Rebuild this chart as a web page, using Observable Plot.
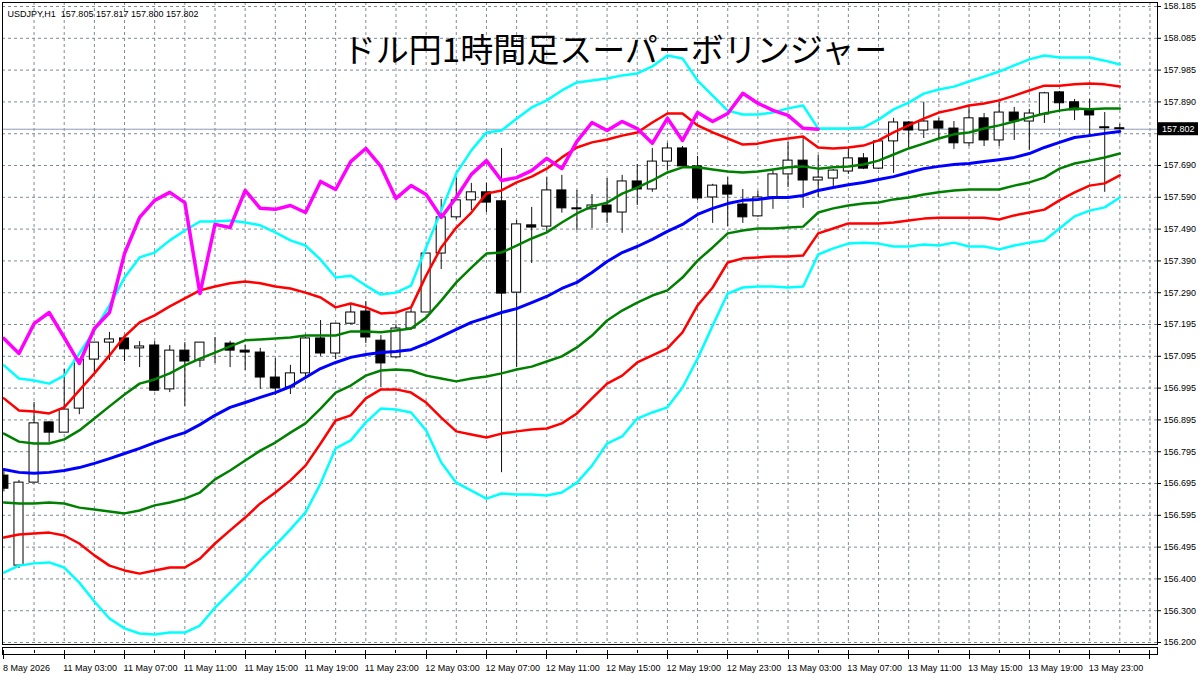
<!DOCTYPE html>
<html><head><meta charset="utf-8">
<script src="https://cdn.jsdelivr.net/npm/d3@7"></script>
<script src="https://cdn.jsdelivr.net/npm/@observablehq/plot@0.6"></script>
<style>html,body{margin:0;padding:0;background:#fff;} #chart{width:1200px;height:674px;overflow:hidden}</style>
</head><body><div id="chart"></div>
<script>
const title = "ドル円1時間足スーパーボリンジャー";
const symbolLine = "USDJPY,H1  157.805 157.817 157.800 157.802";
const lastPrice = 157.802;

const xTickIndex = [0,4,8,12,16,20,24,28,32,36,40,44,48,52,56,60,64,68,72];
const xTickLabels = ["8 May 2026","11 May 03:00","11 May 07:00","11 May 11:00","11 May 15:00","11 May 19:00","11 May 23:00","12 May 03:00","12 May 07:00","12 May 11:00","12 May 15:00","12 May 19:00","12 May 23:00","13 May 03:00","13 May 07:00","13 May 11:00","13 May 15:00","13 May 19:00","13 May 23:00"];
const yTickValues = [156.2,156.29925,156.3985,156.49775,156.597,156.69625,156.7955,156.89475,156.994,157.09325,157.1925,157.29175,157.391,157.49025,157.5895,157.68875,157.788,157.88725,157.9865,158.08575,158.185];
const yTickLabels = ["156.200","156.300","156.400","156.495","156.595","156.695","156.795","156.895","156.995","157.095","157.195","157.290","157.390","157.490","157.590","157.690","157.790","157.890","157.985","158.085","158.185"];

const openP = [156.721,156.440,156.699,156.887,156.855,156.930,157.083,157.136,157.149,157.118,
157.127,156.990,157.111,157.080,157.133,157.133,157.111,157.105,157.027,156.996,
157.040,157.149,157.102,157.195,157.233,157.142,157.090,157.180,157.230,157.414,
157.527,157.580,157.605,157.577,157.292,157.502,157.498,157.611,157.555,157.552,
157.564,157.542,157.639,157.614,157.701,157.742,157.686,157.589,157.626,157.567,
157.530,157.589,157.661,157.704,157.642,157.648,157.670,157.711,157.679,157.764,
157.823,157.798,157.826,157.804,157.758,157.836,157.767,157.854,157.826,157.848,
157.917,157.886,157.861,157.808,157.805];
const highP = [156.735,156.706,156.949,156.890,157.052,157.083,157.136,157.168,157.152,157.139,
157.139,157.127,157.136,157.136,157.152,157.140,157.127,157.118,157.086,157.065,
157.152,157.205,157.195,157.258,157.264,157.158,157.193,157.242,157.414,157.583,
157.648,157.633,157.633,157.742,157.517,157.558,157.651,157.658,157.611,157.598,
157.648,157.658,157.692,157.742,157.758,157.748,157.717,157.630,157.651,157.614,
157.608,157.673,157.761,157.773,157.720,157.676,157.745,157.726,157.767,157.836,
157.826,157.886,157.836,157.826,157.876,157.851,157.886,157.870,157.864,157.917,
157.920,157.895,157.895,157.854,157.817];
const lowP = [156.670,156.431,156.699,156.824,156.855,156.911,157.043,157.080,157.077,157.058,
156.983,156.980,156.937,157.058,157.071,157.058,157.049,156.990,156.971,156.974,
157.030,157.093,157.083,157.192,157.133,156.996,157.087,157.174,157.230,157.364,
157.520,157.548,157.542,156.730,157.058,157.383,157.483,157.540,157.486,157.492,
157.508,157.477,157.564,157.605,157.673,157.683,157.580,157.508,157.498,157.508,
157.527,157.552,157.620,157.555,157.589,157.620,157.661,157.676,157.676,157.664,
157.745,157.773,157.773,157.739,157.748,157.748,157.748,157.767,157.736,157.820,
157.854,157.829,157.782,157.605,157.800];
const closeP = [156.680,156.699,156.884,156.855,156.927,157.083,157.136,157.146,157.115,157.124,
156.986,157.111,157.077,157.136,157.133,157.111,157.105,157.027,156.993,157.040,
157.149,157.102,157.195,157.230,157.152,157.071,157.180,157.230,157.414,157.527,
157.580,157.605,157.573,157.289,157.505,157.495,157.611,157.555,157.552,157.564,
157.542,157.639,157.614,157.701,157.742,157.686,157.586,157.626,157.598,157.527,
157.589,157.661,157.704,157.642,157.651,157.673,157.711,157.679,157.764,157.823,
157.798,157.826,157.804,157.758,157.836,157.767,157.854,157.826,157.851,157.914,
157.883,157.861,157.845,157.805,157.802];

const midBand = [156.740,156.731,156.728,156.731,156.737,156.746,156.759,156.774,156.790,156.806,
156.824,156.840,156.855,156.880,156.909,156.934,156.949,156.965,156.980,156.999,
157.027,157.055,157.074,157.090,157.099,157.105,157.108,157.114,157.133,157.155,
157.177,157.199,157.214,157.230,157.242,157.261,157.280,157.305,157.324,157.355,
157.389,157.417,157.436,157.458,157.483,157.505,157.536,157.555,157.570,157.580,
157.583,157.589,157.589,157.595,157.611,157.620,157.629,157.636,157.645,157.654,
157.667,157.679,157.686,157.692,157.695,157.701,157.707,157.714,157.726,157.745,
157.761,157.776,157.782,157.789,157.795];
const upper1 = [156.852,156.827,156.821,156.821,156.834,156.862,156.899,156.937,156.974,157.008,
157.021,157.040,157.065,157.086,157.105,157.124,157.143,157.146,157.149,157.152,
157.158,157.158,157.158,157.171,157.171,157.168,157.174,157.180,157.214,157.267,
157.324,157.370,157.414,157.417,157.439,157.461,157.480,157.511,157.539,157.561,
157.573,157.601,157.620,157.642,157.667,157.683,157.683,157.676,157.670,157.667,
157.670,157.676,157.683,157.686,157.679,157.683,157.686,157.692,157.704,157.723,
157.742,157.757,157.773,157.786,157.792,157.804,157.814,157.826,157.839,157.851,
157.860,157.867,157.864,157.867,157.867];
const lower1 = [156.637,156.634,156.634,156.637,156.634,156.621,156.615,156.609,156.603,156.612,
156.628,156.637,156.649,156.668,156.709,156.737,156.768,156.799,156.824,156.855,
156.884,156.930,156.980,157.002,157.033,157.049,157.052,157.049,157.033,157.024,
157.015,157.024,157.030,157.040,157.052,157.061,157.077,157.093,157.121,157.158,
157.205,157.236,157.261,157.283,157.299,157.339,157.392,157.433,157.477,157.486,
157.492,157.492,157.495,157.498,157.542,157.555,157.564,157.570,157.573,157.583,
157.589,157.598,157.605,157.611,157.614,157.614,157.614,157.626,157.636,157.651,
157.679,157.695,157.704,157.714,157.726];
const upper2 = [156.962,156.924,156.921,156.915,156.934,156.987,157.040,157.096,157.155,157.199,
157.221,157.249,157.274,157.299,157.311,157.321,157.327,157.321,157.311,157.305,
157.292,157.277,157.246,157.258,157.246,157.227,157.230,157.246,157.345,157.433,
157.495,157.542,157.601,157.611,157.636,157.654,157.679,157.714,157.745,157.761,
157.770,157.782,157.792,157.823,157.851,157.851,157.814,157.792,157.773,157.754,
157.757,157.767,157.773,157.779,157.745,157.742,157.745,157.751,157.767,157.792,
157.814,157.835,157.854,157.864,157.876,157.882,157.892,157.907,157.923,157.938,
157.938,157.942,157.945,157.942,157.935];
const lower2 = [156.528,156.537,156.540,156.543,156.534,156.509,156.472,156.440,156.425,156.415,
156.425,156.434,156.434,156.462,156.509,156.550,156.590,156.634,156.668,156.706,
156.752,156.821,156.893,156.909,156.962,156.990,156.990,156.980,156.949,156.902,
156.859,156.849,156.840,156.852,156.859,156.865,156.868,156.884,156.915,156.962,
157.008,157.033,157.074,157.096,157.118,157.168,157.252,157.308,157.386,157.399,
157.402,157.405,157.405,157.408,157.477,157.492,157.508,157.508,157.508,157.511,
157.517,157.523,157.526,157.526,157.526,157.526,157.520,157.533,157.542,157.551,
157.580,157.605,157.626,157.633,157.658];
const upper3 = [157.065,157.024,157.018,157.008,157.033,157.102,157.174,157.252,157.339,157.402,
157.417,157.455,157.486,157.514,157.514,157.517,157.511,157.502,157.480,157.455,
157.439,157.395,157.339,157.345,157.314,157.286,157.292,157.314,157.433,157.548,
157.664,157.736,157.792,157.798,157.835,157.870,157.892,157.923,157.948,157.954,
157.960,157.970,157.976,157.998,158.032,158.023,157.954,157.907,157.860,157.848,
157.848,157.854,157.867,157.876,157.804,157.804,157.804,157.807,157.832,157.864,
157.885,157.913,157.926,157.935,157.951,157.966,157.982,158.001,158.020,158.032,
158.026,158.026,158.026,158.016,158.004];
const lower3 = [156.418,156.440,156.447,156.450,156.434,156.387,156.328,156.275,156.244,156.228,
156.225,156.231,156.231,156.253,156.309,156.356,156.403,156.456,156.503,156.553,
156.606,156.696,156.806,156.831,156.887,156.930,156.927,156.918,156.862,156.762,
156.699,156.674,156.649,156.665,156.662,156.662,156.659,156.668,156.699,156.752,
156.821,156.843,156.899,156.918,156.934,156.996,157.086,157.189,157.289,157.308,
157.311,157.311,157.308,157.311,157.411,157.430,157.445,157.448,157.445,157.436,
157.436,157.442,157.439,157.448,157.436,157.436,157.427,157.439,157.448,157.455,
157.492,157.530,157.548,157.558,157.589];
const lagSpan = [157.149,157.102,157.195,157.230,157.152,157.071,157.180,157.230,157.414,157.527,
157.580,157.605,157.573,157.289,157.505,157.495,157.611,157.555,157.552,157.564,
157.542,157.639,157.614,157.701,157.742,157.686,157.586,157.626,157.598,157.527,
157.589,157.661,157.704,157.642,157.651,157.673,157.711,157.679,157.764,157.823,
157.798,157.826,157.804,157.758,157.836,157.767,157.854,157.826,157.851,157.914,
157.883,157.861,157.845,157.805,157.802];

const candles = openP.map((o, i) => ({i, o, h: highP[i], l: lowP[i], c: closeP[i]}));
const bull = candles.filter(d => d.c >= d.o);
const bear = candles.filter(d => d.c < d.o);
const series = arr => arr.map((v, i) => ({i, v}));
const gridXIdx = d3.range(2, 77, 2);
// the tick label under the current-price box is hidden in the reference
const yLabel = new Map(yTickValues.map((v, i) => [v, Math.abs(v - lastPrice) < 0.03 ? "" : yTickLabels[i]]));
const xLabel = new Map(xTickIndex.map((v, i) => [v, xTickLabels[i]]));
const gridStroke = "#7d8c98";
const font = "'Liberation Sans', Arial, sans-serif";

const bandLine = (arr, color, w) => Plot.line(series(arr), {x: "i", y: "v", stroke: color, strokeWidth: w, clip: true});

const plot = Plot.plot({
  width: 1200, height: 674,
  marginLeft: 2, marginRight: 43, marginTop: 2, marginBottom: 30,
  style: {fontFamily: font, fontSize: "9px", background: "#fff", color: "#000"},
  x: {type: "linear", domain: [-0.093, 76.5], axis: null},
  y: {type: "linear", domain: [156.1938, 158.1975], axis: null},
  marks: [
    Plot.gridY(yTickValues, {stroke: gridStroke, strokeOpacity: 1, strokeDasharray: "3,3"}),
    Plot.gridX(gridXIdx, {stroke: gridStroke, strokeOpacity: 1, strokeDasharray: "3,3"}),
    Plot.ruleY([lastPrice], {stroke: "#9499b8", strokeWidth: 1}),
    Plot.ruleX(candles, {x: "i", y1: "l", y2: "h", stroke: "#111", strokeWidth: 1, clip: true}),
    Plot.rect(bull, {x1: d => d.i - 0.3, x2: d => d.i + 0.3, y1: "o", y2: "c", fill: "#fff", stroke: "#000", strokeWidth: 1, clip: true}),
    Plot.rect(bear, {x1: d => d.i - 0.3, x2: d => d.i + 0.3, y1: "o", y2: "c", fill: "#000", stroke: "#000", strokeWidth: 1, clip: true}),
    bandLine(upper3, "#00ffff", 2.5),
    bandLine(lower3, "#00ffff", 2.5),
    bandLine(upper2, "#ff0000", 2.5),
    bandLine(lower2, "#ff0000", 2.5),
    bandLine(upper1, "#008000", 2.5),
    bandLine(lower1, "#008000", 2.5),
    bandLine(midBand, "#0000ff", 3),
    bandLine(lagSpan, "#ff00ff", 3.5),
    Plot.frame({stroke: "#000"}),
    Plot.axisY(yTickValues, {anchor: "right", tickSize: 3, tickPadding: 3, label: null, fontSize: 9, tickFormat: d => yLabel.get(d)}),
    Plot.axisX(xTickIndex, {anchor: "bottom", tickSize: 0, tickPadding: 20, label: null, fontSize: 9, textAnchor: "start", dx: -1, tickFormat: d => xLabel.get(d)}),
    Plot.text([title], {frameAnchor: "top", dx: 35, dy: 36, fontSize: 33, fontFamily: "'Noto Sans CJK JP', sans-serif", fill: "#000"}),
    Plot.text([symbolLine], {frameAnchor: "top-left", dx: 5, dy: 8, textAnchor: "start", fontSize: 9, fill: "#000"})
  ]
});

// time-scale strip and current price marker
const xs = plot.scale("x"), ys = plot.scale("y");
const svg = d3.select(plot);
const g = svg.append("g").attr("text-anchor", "start");
g.append("rect").attr("x", 2.5).attr("y", 647.5).attr("width", 1155).attr("height", 7)
  .attr("fill", "none").attr("stroke", "#000");
for (let k = 0; k <= 76; k += 2) {
  const x = Math.round(xs.apply(k)) + 0.5;
  const major = k % 4 === 0;
  g.append("line").attr("x1", x).attr("x2", x).attr("y1", 650).attr("y2", major ? 659 : 653)
    .attr("stroke", "#000");
}
const py = ys.apply(lastPrice);
g.append("rect").attr("x", 1158).attr("y", py - 6.5).attr("width", 40).attr("height", 13).attr("fill", "#000");
g.append("text").attr("x", 1162).attr("y", py).attr("dy", "0.35em").attr("fill", "#fff")
  .attr("text-anchor", "start").attr("font-size", 9).attr("font-family", font).text(lastPrice.toFixed(3));

document.getElementById("chart").appendChild(plot);
</script>
</body></html>
